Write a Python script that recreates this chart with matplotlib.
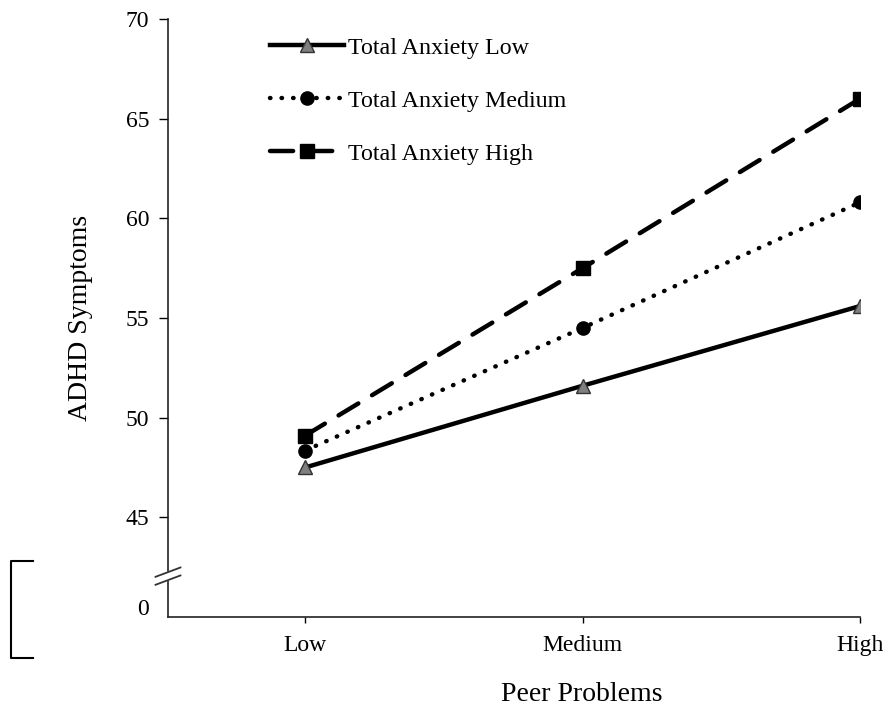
import matplotlib
matplotlib.use("Agg")
import matplotlib.pyplot as plt
from matplotlib.lines import Line2D

# data
peer_levels = ["Low", "Medium", "High"]
anx_low = [47.5, 51.6, 55.6]
anx_medium = [48.35, 54.5, 60.8]
anx_high = [49.1, 57.5, 66.0]
series_names = ["Total Anxiety Low", "Total Anxiety Medium", "Total Anxiety High"]
y_ticks = [45, 50, 55, 60, 65, 70]

plt.rcParams['font.family'] = ['Liberation Serif', 'DejaVu Serif']

fig = plt.figure(figsize=(8.88, 7.13), dpi=100)
ax = fig.add_axes([168/888, 1 - 617/713, (860-168)/888, (617-19)/713])

x = range(len(peer_levels))
ax.plot(x, anx_low, color='black', lw=3.2, marker='^', markersize=10,
        markerfacecolor='#7f7f7f', markeredgecolor='#333333', label=series_names[0])
ax.plot(x, anx_medium, color='black', lw=3.2, linestyle=(0, (0.1, 2.5)), dash_capstyle='round',
        marker='o', markersize=9.5, label=series_names[1])
ax.plot(x, anx_high, color='black', lw=3.2, linestyle=(0, (5.2, 3.6)), dash_capstyle='round',
        marker='s', markersize=9.5, label=series_names[2])

ax.set_xlim(-0.494, 2.0)
ax.set_ylim(40, 70)
ax.set_xticks(list(x))
ax.set_xticklabels(peer_levels, fontsize=17)
ax.set_yticks(y_ticks + [40.5])
ax.set_yticklabels([str(v) for v in y_ticks] + ["0"], fontsize=17)
ax.yaxis.get_major_ticks()[-1].tick1line.set_visible(False)
ax.tick_params(axis='y', length=6.5, width=1, pad=7)
ax.tick_params(axis='x', length=4, width=1, pad=9)

for s in ['top', 'right']:
    ax.spines[s].set_visible(False)
for s in ['left', 'bottom']:
    ax.spines[s].set_linewidth(1.2)
    ax.spines[s].set_color('#222222')

ax.set_ylabel("ADHD Symptoms", fontsize=20)
ax.yaxis.set_label_coords(-0.108, 0.5)
ax.set_xlabel("Peer Problems", fontsize=20, va='top')
ax.xaxis.set_label_coords(0.598, -0.109)

# axis break marks on the y axis
bx = [-0.494 - 0.048, -0.494 + 0.048]
ax.fill([bx[0], bx[1], bx[1], bx[0]], [41.6, 42.1, 42.5, 42.0], color='white',
        clip_on=False, zorder=3)
for yb in [41.85, 42.25]:
    ax.plot(bx, [yb - 0.25, yb + 0.25], color='#333333', lw=1.3,
            clip_on=False, solid_capstyle='butt', zorder=4)

leg = ax.legend(loc='upper left', bbox_to_anchor=(0.147, 0.970), frameon=False,
                fontsize=17.3, handlelength=3.1, handletextpad=0.15, labelspacing=1.3,
                numpoints=1, borderpad=0, borderaxespad=0)

# bracket at the left edge
fig.add_artist(Line2D([33/888, 11/888, 11/888, 33/888],
                      [1 - 561/713, 1 - 561/713, 1 - 658/713, 1 - 658/713],
                      color='black', lw=1.5))

fig.savefig("out.png", dpi=100)
